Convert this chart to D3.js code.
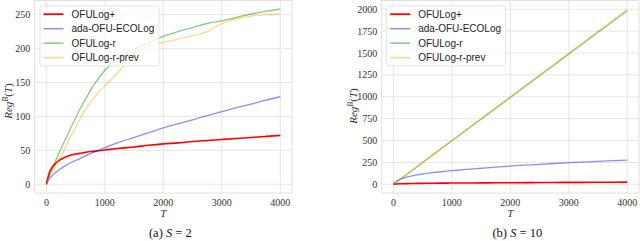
<!DOCTYPE html>
<html>
<head>
<meta charset="utf-8">
<script src="https://cdn.jsdelivr.net/npm/d3@7"></script>
<style>
body { margin: 0; background: #fff; }
svg { display: block; }
</style>
</head>
<body>
<script>
// horizon values shared by every series
var tVals = [0, 50, 100, 150, 200, 300, 400, 500, 600, 700, 800, 900, 1000,
             1250, 1500, 1750, 2000, 2250, 2500, 2750, 3000, 3250, 3500, 3750, 4000];

var seriesNames = ["OFULog+", "ada-OFU-ECOLog", "OFULog-r", "OFULog-r-prev"];

// (a) S = 2
var s2_ofulogPlus = [0, 17, 25, 30, 34, 39, 42.5, 44.5, 46, 47.5, 48.5, 49.5, 50.5,
                     53, 55, 57.5, 59.5, 61, 63, 64.5, 66, 67.5, 69, 70.5, 72];
var s2_adaOfu = [0, 8, 13, 17, 20, 26, 31, 35, 39, 43, 47, 50.5, 54,
                 62, 69, 76, 83, 89, 95, 101, 107, 113, 118, 124, 129];
var s2_ofulogR = [0, 12, 23, 33, 43, 62, 80, 98, 115, 130, 145, 157, 168,
                  186, 199, 209, 218, 225, 231, 237, 241, 246, 251, 255, 258];
var s2_ofulogRprev = [0, 10, 18, 26, 34, 50, 68, 84, 100, 114, 126, 136, 145,
                      167, 192, 204, 209, 214, 219, 225, 237, 244, 248, 250, 251];

// (b) S = 10
var s10_ofulogPlus = [0, 3, 5, 6, 7, 8.5, 9.5, 10.5, 11, 12, 12.5, 13, 13.5,
                      14.5, 15.5, 16.5, 17.5, 18.5, 19.5, 20.5, 21.5, 22, 23, 23.5, 24];
var s10_adaOfu = [0, 35, 52, 65, 76, 92, 106, 117, 126, 135, 142, 149, 155,
                  170, 183, 196, 208, 218, 228, 237, 246, 254, 262, 269, 276];
var s10_ofulogR = [0, 25, 50, 74, 99, 149, 198, 248, 298, 347, 397, 446, 496,
                   620, 744, 868, 992, 1116, 1240, 1364, 1488, 1612, 1736, 1860, 1984];
var s10_ofulogRprev = [0, 25, 50, 75, 100, 150, 200, 250, 300, 350, 400, 450, 500,
                       625, 750, 875, 1000, 1125, 1250, 1375, 1500, 1625, 1750, 1875, 2000];

var xTicks = [0, 1000, 2000, 3000, 4000];
var yTicksA = [0, 50, 100, 150, 200, 250];
var yTicksB = [0, 250, 500, 750, 1000, 1250, 1500, 1750, 2000];

var colors = ["#ff0000", "rgba(0,0,255,0.45)", "rgba(0,128,0,0.45)", "rgba(255,165,0,0.45)"];
var widths = [1.6, 1.3, 1.3, 1.3];

var width = 640, height = 241;

var svg = d3.select("body").append("svg")
    .attr("width", width)
    .attr("height", height);

var panels = [
  {left: 34.7, right: 292, series: [s2_ofulogPlus, s2_adaOfu, s2_ofulogR, s2_ofulogRprev],
   yTicks: yTicksA, ylabX: 12, ylabY: 101, caption: "(a) ", capS: "2", legX: 40},
  {left: 381.7, right: 639, series: [s10_ofulogPlus, s10_adaOfu, s10_ofulogR, s10_ofulogRprev],
   yTicks: yTicksB, ylabX: 356.5, ylabY: 106, caption: "(b) ", capS: "10", legX: 386.7}
];

var plotTop = 0.5, plotBottom = 193;
var serif = "'Liberation Serif', 'DejaVu Serif', serif";

panels.forEach(function(p) {
  var ymax = d3.max(p.series, function(s) { return d3.max(s); });
  var x = d3.scaleLinear().domain([-200, 4200]).range([p.left, p.right]);
  var y = d3.scaleLinear().domain([-0.05 * ymax, 1.05 * ymax]).range([plotBottom, plotTop]);

  var g = svg.append("g");

  // grid
  g.selectAll(".gx").data(xTicks).enter().append("line")
    .attr("x1", function(d) { return x(d); })
    .attr("x2", function(d) { return x(d); })
    .attr("y1", plotTop).attr("y2", plotBottom)
    .attr("stroke", "#e6e6e6").attr("stroke-width", 1);
  g.selectAll(".gy").data(p.yTicks).enter().append("line")
    .attr("x1", p.left).attr("x2", p.right)
    .attr("y1", function(d) { return y(d); })
    .attr("y2", function(d) { return y(d); })
    .attr("stroke", "#e6e6e6").attr("stroke-width", 1);

  g.append("rect")
    .attr("x", p.left).attr("y", plotTop)
    .attr("width", p.right - p.left).attr("height", plotBottom - plotTop)
    .attr("fill", "none").attr("stroke", "#e0e0e0").attr("stroke-width", 1);

  // tick labels
  g.selectAll(".tx").data(xTicks).enter().append("text")
    .attr("x", function(d) { return x(d); })
    .attr("y", 206)
    .attr("text-anchor", "middle")
    .style("font-family", serif).style("font-size", "10px").style("fill", "#333")
    .text(function(d) { return d; });
  g.selectAll(".ty").data(p.yTicks).enter().append("text")
    .attr("x", p.left - 4.5)
    .attr("y", function(d) { return y(d) + 3.5; })
    .attr("text-anchor", "end")
    .style("font-family", serif).style("font-size", "10px").style("fill", "#333")
    .text(function(d) { return d; });

  // lines
  var line = d3.line()
    .x(function(d, i) { return x(tVals[i]); })
    .y(function(d) { return y(d); })
    .curve(d3.curveMonotoneX);

  p.series.forEach(function(s, i) {
    g.append("path")
      .datum(s)
      .attr("fill", "none")
      .attr("stroke", colors[i])
      .attr("stroke-width", widths[i])
      .attr("d", line);
  });

  // legend
  var lg = g.append("g").attr("transform", "translate(" + p.legX + ",6)");
  lg.append("rect")
    .attr("width", 119).attr("height", 60).attr("rx", 2.5)
    .attr("fill", "rgba(255,255,255,0.8)")
    .attr("stroke", "#dcdcdc").attr("stroke-width", 0.8);
  seriesNames.forEach(function(n, i) {
    var yy = 8.2 + i * 14.5;
    lg.append("line")
      .attr("x1", 3.5).attr("x2", 23.5)
      .attr("y1", yy).attr("y2", yy)
      .attr("stroke", colors[i]).attr("stroke-width", widths[i] + 0.2);
    lg.append("text")
      .attr("x", 31.5).attr("y", yy + 3.6)
      .style("font-family", "'Liberation Sans', Arial, sans-serif")
      .style("font-size", "10px").style("fill", "#222")
      .text(n);
  });

  // axis labels
  var xm = (p.left + p.right) / 2;
  g.append("text")
    .attr("x", x(2000)).attr("y", 217)
    .attr("text-anchor", "middle")
    .style("font-family", serif).style("font-size", "11px")
    .style("font-style", "italic").style("fill", "#333")
    .text("T");

  var yl = g.append("text")
    .attr("transform", "translate(" + p.ylabX + "," + p.ylabY + ") rotate(-90)")
    .attr("text-anchor", "middle")
    .style("font-family", serif).style("font-size", "11px").style("fill", "#333");
  yl.append("tspan").style("font-style", "italic").text("Reg");
  yl.append("tspan").style("font-style", "italic").style("font-size", "8px")
    .attr("dy", -4).text("B");
  yl.append("tspan").attr("dy", 4).text("(");
  yl.append("tspan").style("font-style", "italic").text("T");
  yl.append("tspan").text(")");

  // caption
  var cap = svg.append("text")
    .attr("x", xm + 7).attr("y", 237)
    .attr("text-anchor", "middle")
    .style("font-family", serif).style("font-size", "12.5px").style("fill", "#111");
  cap.append("tspan").text(p.caption);
  cap.append("tspan").style("font-style", "italic").text("S");
  cap.append("tspan").text(" = " + p.capS);
});
</script>
</body>
</html>
